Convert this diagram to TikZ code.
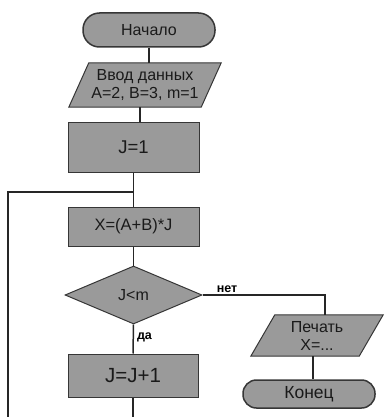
\documentclass[tikz,border=0pt]{standalone}
\usepackage{fontspec}
\setmainfont{Liberation Sans}
\usetikzlibrary{calc,shapes.geometric,backgrounds}
\definecolor{shade}{HTML}{9A9A9A}
\definecolor{edge}{HTML}{363636}
\definecolor{txt}{HTML}{1A1A1A}
\newcommand\fsz[2]{\fontsize{#1}{#2}\selectfont}
\tikzset{
  box/.style={draw=edge, line width=1pt, fill=shade, text=txt, inner sep=0pt, font=\fsz{16}{18}},
  term/.style={draw=edge, line width=1.5pt, fill=shade, text=txt, inner sep=0pt, font=\fsz{16}{18}},
  io/.style={draw=none, text=txt, inner sep=0pt, align=center, font=\fsz{16}{18}},
  iofill/.style={draw=edge, line width=1pt, fill=shade},
  dec/.style={diamond, draw=edge, line width=1pt, fill=shade, text=txt, inner sep=0pt, font=\fsz{16}{18}},
  ln/.style={draw=black!85, line width=1.5pt},
  lab/.style={text=black, font=\bfseries\fsz{12.5}{14}, inner sep=1pt}
}
\begin{document}
\begin{tikzpicture}[x=1pt,y=-1pt]
\useasboundingbox (0,0) rectangle (385,417);
% nodes
\node[term, rounded corners=16.5pt, minimum width=132pt, minimum height=34pt] (start) at (149,30) {Начало};
\node[io, minimum width=132pt, minimum height=44pt] (in) at (145,85) {Ввод данных\\A=2, B=3, m=1};
\node[box, minimum width=131pt, minimum height=50pt, font=\fsz{18.5}{20}] (j1) at (133.5,147) {J=1};
\node[box, minimum width=131pt, minimum height=39pt, font=\fsz{16.5}{18}] (x) at (133.5,226.5) {X=(A+B)*J};
\node[dec, minimum width=137pt, minimum height=58pt, aspect=2.36] (d) at (133.5,295) {J<m};
\node[box, minimum width=130pt, minimum height=43pt, font=\fsz{20.5}{22}] (j2) at (133,375.5) {J=J+1};
\node[io, minimum width=108pt, minimum height=41pt] (pr) at (317,335.5) {Печать\\X=...};
\node[term, rounded corners=13.5pt, minimum width=132pt, minimum height=28pt, font=\fsz{17.5}{19}] (end) at (309,394) {Конец};
% parallelogram outlines
\begin{scope}[on background layer]
\draw[iofill] ($(in.north west)+(10,0)$) -- ($(in.north east)+(10,0)$) -- ($(in.south east)+(-10,0)$) -- ($(in.south west)+(-10,0)$) -- cycle;
\draw[iofill] ($(pr.north west)+(12,0)$) -- ($(pr.north east)+(12,0)$) -- ($(pr.south east)+(-12,0)$) -- ($(pr.south west)+(-12,0)$) -- cycle;
\end{scope}
% connectors
\draw[ln] (start.south) -- (start.south |- in.north);
\coordinate (ins) at ($(in.south)+(-5,0)$);
\draw[ln] (ins) -- (ins |- j1.north);
\draw[ln] (j1.south) -- (x.north);
\coordinate (jn) at (133.5,192);
\coordinate (lb) at (8,417);
\draw[ln] (lb) |- (jn);
\draw[ln] (x.south) -- (d.north);
\draw[ln] (d.south) -- node[lab, right, pos=0.45, xshift=2pt] {да} (j2.north);
\coordinate (jb) at (133,417);
\draw[ln] (j2.south) -- (jb);
\coordinate (prn) at ($(pr.north)+(8,0)$);
\draw[ln] (d.east) -| node[lab, above, pos=0.1, yshift=1pt] {нет} (prn);
\coordinate (prs) at ($(pr.south)+(-4,0)$);
\draw[ln] (prs) -- (prs |- end.north);
\end{tikzpicture}
\end{document}
